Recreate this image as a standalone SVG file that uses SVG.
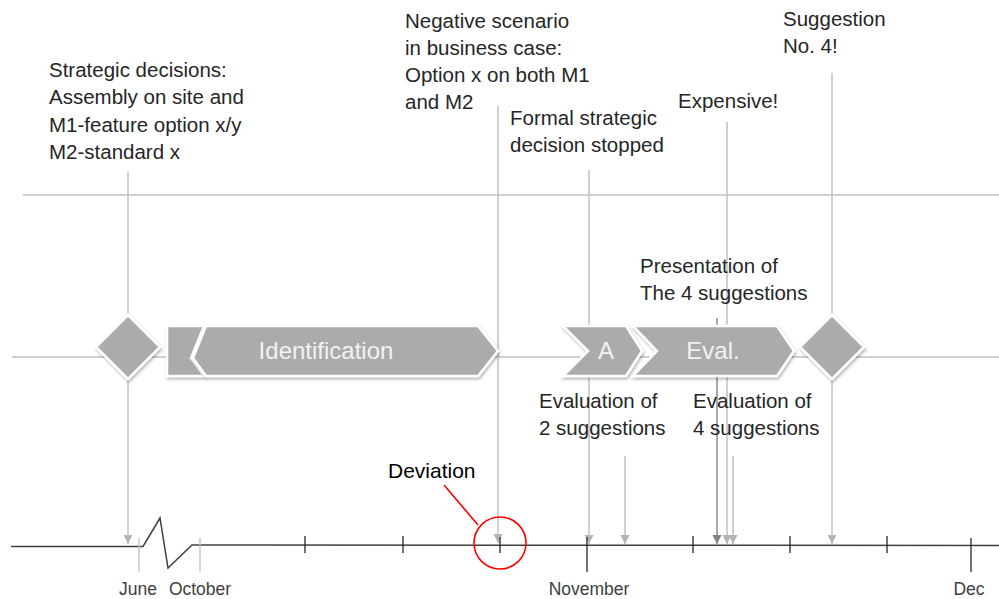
<svg xmlns="http://www.w3.org/2000/svg" width="999" height="599" viewBox="0 0 999 599">
<style>
.lbl{font-family:"Liberation Sans",Arial,sans-serif;font-size:20.5px;fill:#262626}
.axl{font-family:"Liberation Sans",Arial,sans-serif;font-size:17.5px;fill:#404040;text-anchor:middle}
.shp{fill:#ababab;stroke:#ffffff;stroke-width:2.5;stroke-linejoin:miter;filter:url(#sh)}
.stx{font-family:"Liberation Sans",Arial,sans-serif;font-size:24px;fill:#f2f2f2;text-anchor:middle}
.gl{stroke:#c0c0c0;stroke-width:1.5;fill:none}
.arr{stroke:#c0c0c0;stroke-width:1.5;fill:none;marker-end:url(#ah)}
.arrd{stroke:#8c8c8c;stroke-width:1.5;fill:none;marker-end:url(#ahd)}
.tk{stroke:#262626;stroke-width:1.3}
.tkl{stroke:#c0c0c0;stroke-width:1.3}
</style>
<defs>
<filter id="sh" x="-20%" y="-20%" width="140%" height="150%">
<feDropShadow dx="1" dy="2" stdDeviation="1.5" flood-color="#000" flood-opacity="0.3"/>
</filter>
<marker id="ah" markerUnits="userSpaceOnUse" markerWidth="10" markerHeight="10" refX="9" refY="4.5" orient="auto">
<path d="M0,0 L9,4.5 L0,9 z" fill="#b4b4b4"/>
</marker>
<marker id="ahd" markerUnits="userSpaceOnUse" markerWidth="10" markerHeight="10" refX="9" refY="4.5" orient="auto">
<path d="M0,0 L9,4.5 L0,9 z" fill="#808080"/>
</marker>
</defs>
<rect width="999" height="599" fill="#ffffff"/>

<g id="guides">
<line class="gl" x1="23" y1="195" x2="999" y2="195"/>
<line class="gl" x1="12" y1="357" x2="999" y2="357"/>
</g>

<g id="connectors">
<line class="arr" x1="128" y1="172" x2="128" y2="544"/>
<line class="arr" x1="498" y1="106" x2="498" y2="543"/>
<line class="arr" x1="589" y1="170" x2="589" y2="544"/>
<line class="arr" x1="625" y1="456" x2="625" y2="544"/>
<line class="arrd" x1="717" y1="318" x2="717" y2="544"/>
<line class="arr" x1="727" y1="122" x2="727" y2="544"/>
<line class="arr" x1="733" y1="456" x2="733" y2="544"/>
<line class="arr" x1="832" y1="73" x2="832" y2="544"/>
</g>

<g id="timeline">
<polyline points="11,546.5 143,546.5 160,518 168,568 192,545 999,545.5" fill="none" stroke="#404040" stroke-width="1.5"/>
<line class="tkl" x1="139" y1="538" x2="139" y2="572"/>
<line class="tkl" x1="200" y1="538" x2="200" y2="572"/>
<line class="tk" x1="305" y1="536" x2="305" y2="553"/>
<line class="tk" x1="403" y1="536" x2="403" y2="553"/>
<line class="tk" x1="500" y1="537" x2="500" y2="553"/>
<line class="tk" x1="587" y1="537" x2="587" y2="572"/>
<line class="tk" x1="693" y1="536" x2="693" y2="553"/>
<line class="tk" x1="790" y1="536" x2="790" y2="553"/>
<line class="tk" x1="887" y1="536" x2="887" y2="553"/>
<line class="tk" x1="971" y1="538" x2="971" y2="572"/>
<text class="axl" x="138" y="595">June</text>
<text class="axl" x="200" y="595">October</text>
<text class="axl" x="589" y="595">November</text>
<text class="axl" x="969" y="595">Dec</text>
</g>

<g id="deviation">
<circle cx="500" cy="543" r="26" fill="none" stroke="#ff0000" stroke-width="1.6"/>
<line x1="444" y1="485" x2="478" y2="525" stroke="#ff0000" stroke-width="1.6"/>
<text x="388" y="478" font-family="Liberation Sans, Arial, sans-serif" font-size="21" fill="#000000">Deviation</text>
</g>

<g id="milestone1">
<polygon class="shp" points="128,315 160,347 128,379 96,347"/>
</g>

<g id="identification">
<polygon class="shp" points="167,326 204,326 191,358 204,376 167,376"/>
<polygon class="shp" points="206,326 478,326 498,351 478,376 206,376 193,358"/>
<text class="stx" x="326" y="359">Identification</text>
</g>

<g id="phaseA">
<polygon class="shp" points="563,326 626,326 642,351 626,376 563,376 588,351"/>
<text class="stx" x="606" y="359">A</text>
</g>

<g id="phaseEval">
<polygon class="shp" points="633,326 777,326 794,351 777,376 633,376 657,351"/>
<text class="stx" x="713" y="359">Eval.</text>
</g>

<g id="milestone2">
<polygon class="shp" points="832,315 864,347 832,379 800,347"/>
</g>

<g id="labels">
<text class="lbl" x="49" y="77">Strategic decisions:</text>
<text class="lbl" x="49" y="104">Assembly on site and</text>
<text class="lbl" x="49" y="132">M1-feature option x/y</text>
<text class="lbl" x="49" y="159">M2-standard x</text>
<text class="lbl" x="405" y="28">Negative scenario</text>
<text class="lbl" x="405" y="55">in business case:</text>
<text class="lbl" x="405" y="82">Option x on both M1</text>
<text class="lbl" x="405" y="109">and M2</text>
<text class="lbl" x="510" y="125">Formal strategic</text>
<text class="lbl" x="510" y="152">decision stopped</text>
<text class="lbl" x="678" y="108">Expensive!</text>
<text class="lbl" x="783" y="26">Suggestion</text>
<text class="lbl" x="783" y="53">No. 4!</text>
<text class="lbl" x="640" y="273">Presentation of</text>
<text class="lbl" x="640" y="300">The 4 suggestions</text>
<text class="lbl" x="539" y="408">Evaluation of</text>
<text class="lbl" x="539" y="435">2 suggestions</text>
<text class="lbl" x="693" y="408">Evaluation of</text>
<text class="lbl" x="693" y="435">4 suggestions</text>
</g>
</svg>
